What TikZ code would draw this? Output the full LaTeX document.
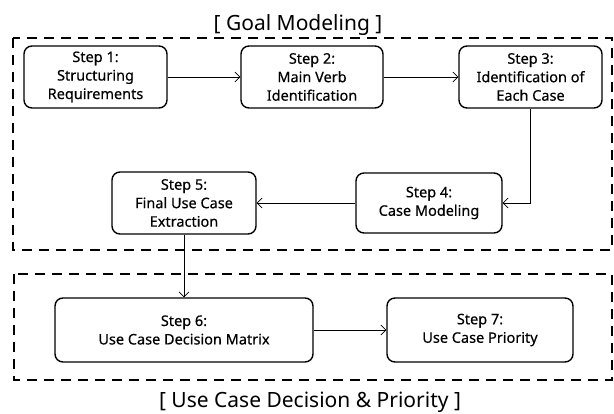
\documentclass[tikz,border=0pt]{standalone}
\usepackage{fontspec}
\setmainfont{Noto Sans}
\newfontfamily\boxfont[FakeBold=0.4]{Noto Sans}
\usetikzlibrary{arrows.meta}

\begin{document}
\begin{tikzpicture}[x=1pt,y=-1pt,
        stepbox/.style={draw,line width=1.4pt,rounded corners=8pt,align=center,inner sep=0pt,
            font=\boxfont\fontsize{14.5}{18.5}\selectfont},
        phase/.style={line width=1.6pt,dash pattern=on 10pt off 7pt},
        flow/.style={-{Straight Barb[length=5pt,width=10pt]},semithick},
        heading/.style={anchor=base,font=\fontsize{21}{25}\selectfont}]
            \useasboundingbox (0,0) rectangle (614,414);
            \draw[phase] (13,38) rectangle (612,250);
            \draw[phase] (14,274) rectangle (612,380);
            \node[heading] (goal) at (298,31) {[ Goal Modeling ]};
            \node[heading] (decision) at (310,408) {[ Use Case Decision \& Priority ]};
            \node[stepbox,minimum width=143,minimum height=62] (step1) at (95.5,77) {Step 1:\\Structuring\\Requirements};
            \node[stepbox,minimum width=142,minimum height=62] (step2) at (312,77) {Step 2:\\Main Verb\\Identification};
            \node[stepbox,minimum width=143,minimum height=62] (step3) at (530.5,77) {Step 3:\\Identification of\\Each Case};
            \node[stepbox,minimum width=146,minimum height=60] (step4) at (429,203) {Step 4:\\Case Modeling};
            \node[stepbox,minimum width=144,minimum height=62] (step5) at (184,203) {Step 5:\\Final Use Case\\Extraction};
            \node[stepbox,minimum width=258,minimum height=64] (step6) at (184,330) {Step 6:\\Use Case Decision Matrix};
            \node[stepbox,minimum width=186,minimum height=64] (step7) at (480,330) {Step 7:\\Use Case Priority};
            \draw[flow] (step1) -- (step2);
            \draw[flow] (step2) -- (step3);
            \draw[flow] (step3.south) |- (step4.east);
            \draw[flow] (step4) -- (step5);
            \draw[flow] (step5) -- (step6);
            \draw[flow] (step6) -- (step7);
        \end{tikzpicture}
\end{document}
